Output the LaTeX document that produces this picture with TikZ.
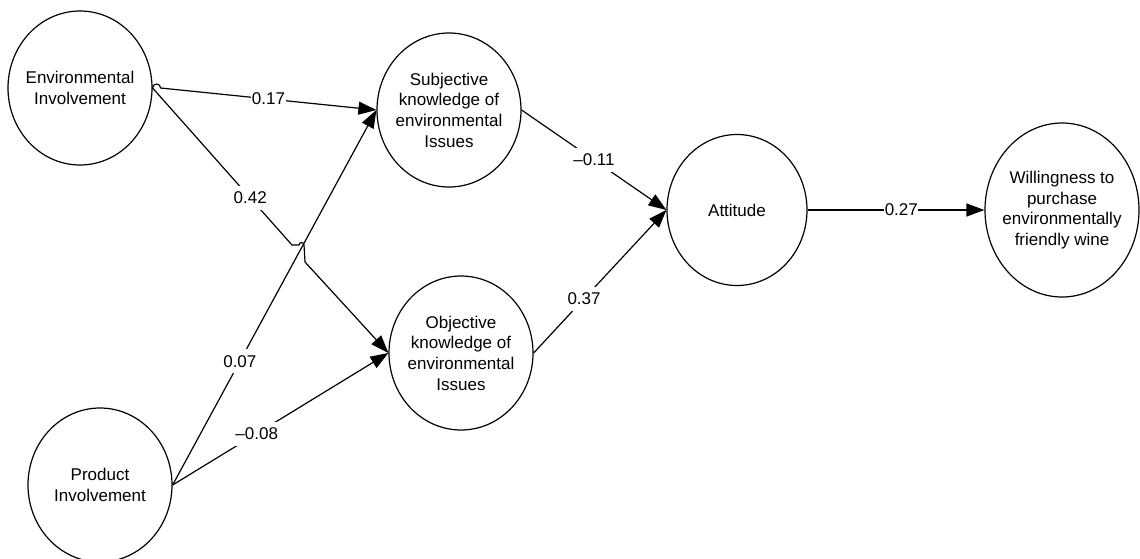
\documentclass[tikz,border=0pt]{standalone}
\usepackage{fontspec}
\setmainfont{Liberation Sans}
\usetikzlibrary{shapes.geometric,arrows.meta}

\tikzset{
    construct/.style={draw, ellipse, line width=0.6pt, inner sep=-3pt, align=center,
        minimum width=72pt, minimum height=77pt, font=\fontsize{8.5pt}{10.35pt}\selectfont},
    link/.style={-{Triangle[length=9pt,width=6.5pt]}, line width=0.6pt},
    coef/.style={fill=white, inner xsep=0.3pt, inner ysep=3pt, font=\fontsize{8.5pt}{10pt}\selectfont}
}

\begin{document}
\begin{tikzpicture}[x=0.5pt, y=-0.5pt]
        \useasboundingbox (0,0) rectangle (1140,558);
        \node[construct] (envinv) at (80,88) {Environmental\\Involvement};
        \node[construct] (prodinv) at (100,485) {Product\\Involvement};
        \node[construct] (subjknow) at (449,110) {Subjective\\knowledge of\\environmental\\Issues};
        \node[construct] (objknow) at (461,353) {Objective\\knowledge of\\environmental\\Issues};
        \node[construct, minimum width=70pt, minimum height=75.5pt] (attitude) at (737,210) {Attitude};
        \node[construct, minimum width=77pt, minimum height=87pt] (willing) at (1062,210) {Willingness to\\purchase\\environmentally\\friendly wine};
        \coordinate (jumpA) at (292,245);
        \coordinate (jumpB) at (305,262);

        \draw[link] (envinv.east) arc[start angle=180, end angle=360, radius=4] -- node[coef] {0.17} (subjknow.west);
        \draw[link] (envinv.east) -- node[coef, pos=0.7] {0.42} (jumpA) -- ++(7,0) arc[start angle=180, end angle=360, radius=2.5] -- (jumpB) -- (objknow.west);
        \draw[link] (prodinv.east) -- node[coef, pos=0.33] {0.07} (subjknow.west);
        \draw[link] (prodinv.east) -- node[coef, pos=0.39] {–0.08} (objknow.west);
        \draw[link] (subjknow.east) -- node[coef] {–0.11} (attitude.west);
        \draw[link] (objknow.east) -- node[coef, pos=0.38] {0.37} (attitude.west);
        \draw[link] (attitude.east) -- node[coef, pos=0.53] {0.27} (willing.west);
    \end{tikzpicture}
\end{document}
